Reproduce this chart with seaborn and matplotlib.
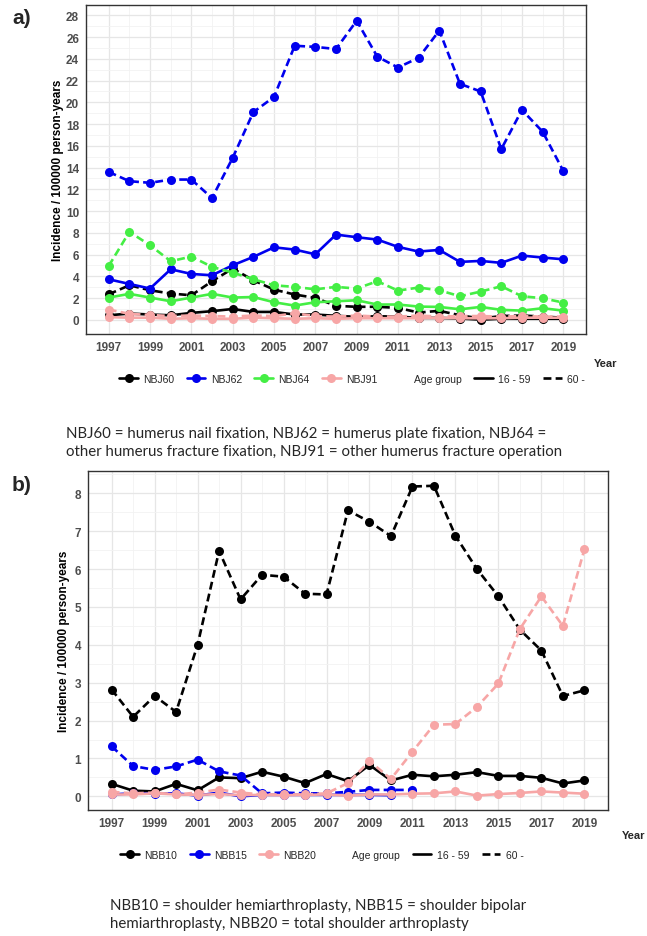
import numpy as np
import pandas as pd
import matplotlib
matplotlib.use("Agg")
import matplotlib.pyplot as plt
from matplotlib.lines import Line2D
import seaborn as sns

years = list(range(1997, 2020))

# Panel a) values
nbj60_young = [0.42, 0.58, 0.49, 0.42, 0.64, 0.80, 1.00, 0.73, 0.73, 0.49, 0.49, 0.37, 0.28, 0.33, 0.30, 0.18, 0.18, 0.12, 0.02, 0.10, 0.10, 0.10, 0.10]
nbj60_old = [2.35, 3.18, 2.72, 2.42, 2.26, 3.55, 4.72, 3.64, 2.78, 2.33, 2.02, 1.29, 1.20, 1.20, 1.10, 0.67, 0.83, 0.42, 0.12, 0.35, 0.40, 0.30, 0.20]
nbj62_young = [3.73, 3.30, 2.88, 4.65, 4.22, 4.10, 5.02, 5.79, 6.67, 6.46, 6.03, 7.84, 7.60, 7.38, 6.71, 6.28, 6.43, 5.33, 5.42, 5.24, 5.91, 5.73, 5.57]
nbj62_old = [13.6, 12.75, 12.6, 12.9, 12.9, 11.2, 14.9, 19.1, 20.5, 25.2, 25.1, 24.9, 27.5, 24.2, 23.2, 24.1, 26.6, 21.7, 21.0, 15.7, 19.3, 17.3, 13.7]
nbj64_young = [2.05, 2.39, 2.05, 1.71, 2.05, 2.39, 2.05, 2.10, 1.62, 1.31, 1.62, 1.71, 1.80, 1.41, 1.41, 1.22, 1.19, 0.97, 1.19, 0.92, 0.85, 1.07, 0.85]
nbj64_old = [4.96, 8.09, 6.86, 5.39, 5.82, 4.87, 4.35, 3.73, 3.18, 3.03, 2.81, 3.03, 2.88, 3.55, 2.69, 2.97, 2.72, 2.17, 2.60, 3.09, 2.17, 1.99, 1.59]
nbj91_young = [0.25, 0.20, 0.20, 0.10, 0.15, 0.10, 0.10, 0.20, 0.15, 0.10, 0.15, 0.10, 0.15, 0.15, 0.15, 0.15, 0.20, 0.15, 0.15, 0.15, 0.20, 0.20, 0.20]
nbj91_old = [0.95, 0.55, 0.45, 0.35, 0.40, 0.35, 0.30, 0.40, 0.35, 0.60, 0.35, 0.30, 0.40, 0.30, 0.30, 0.40, 0.30, 0.35, 0.35, 0.30, 0.35, 0.30, 0.30]

# Panel b) values
nbb10_young = [0.33, 0.15, 0.13, 0.33, 0.16, 0.50, 0.48, 0.65, 0.52, 0.35, 0.59, 0.40, 0.83, 0.42, 0.57, 0.53, 0.57, 0.64, 0.54, 0.54, 0.49, 0.34, 0.42]
nbb10_old = [2.82, 2.10, 2.65, 2.23, 4.00, 6.48, 5.20, 5.85, 5.80, 5.35, 5.33, 7.55, 7.25, 6.87, 8.18, 8.20, 6.88, 6.00, 5.28, 4.40, 3.85, 2.65, 2.80]
nbb15_years_young = list(range(1997, 2011))
nbb15_young = [0.05, 0.08, 0.07, 0.08, 0.02, 0.10, 0.00, 0.04, 0.04, 0.04, 0.04, 0.04, 0.04, 0.03]
nbb15_years_old = list(range(1997, 2012))
nbb15_old = [1.32, 0.80, 0.70, 0.79, 0.97, 0.66, 0.55, 0.08, 0.10, 0.08, 0.08, 0.12, 0.17, 0.17, 0.17]
nbb20_young = [0.05, 0.05, 0.08, 0.05, 0.04, 0.06, 0.03, 0.04, 0.03, 0.04, 0.05, 0.02, 0.05, 0.05, 0.07, 0.08, 0.13, 0.02, 0.06, 0.09, 0.13, 0.10, 0.07]
nbb20_old = [0.12, 0.08, 0.10, 0.05, 0.10, 0.18, 0.10, 0.05, 0.05, 0.05, 0.08, 0.35, 0.93, 0.46, 1.18, 1.89, 1.91, 2.36, 2.98, 4.42, 5.28, 4.50, 6.52]

codes_a = ["NBJ60", "NBJ62", "NBJ64", "NBJ91"]
codes_b = ["NBB10", "NBB15", "NBB20"]
age_groups = ["16 - 59", "60 -"]
year_ticks = list(range(1997, 2020, 2))

caption_a = ("NBJ60 = humerus nail fixation, NBJ62 = humerus plate fixation, NBJ64 =\n"
             "other humerus fracture fixation, NBJ91 = other humerus fracture operation")
caption_b = ("NBB10 = shoulder hemiarthroplasty, NBB15 = shoulder bipolar\n"
             "hemiarthroplasty, NBB20 = total shoulder arthroplasty")

def long_df(entries):
    rows = []
    for code, age, ys, vals in entries:
        for y, v in zip(ys, vals):
            rows.append({"year": y, "value": v, "code": code, "age": age})
    return pd.DataFrame(rows)

df_a = long_df([
    ("NBJ60", "16 - 59", years, nbj60_young), ("NBJ60", "60 -", years, nbj60_old),
    ("NBJ62", "16 - 59", years, nbj62_young), ("NBJ62", "60 -", years, nbj62_old),
    ("NBJ64", "16 - 59", years, nbj64_young), ("NBJ64", "60 -", years, nbj64_old),
    ("NBJ91", "16 - 59", years, nbj91_young), ("NBJ91", "60 -", years, nbj91_old),
])
df_b = long_df([
    ("NBB10", "16 - 59", years, nbb10_young), ("NBB10", "60 -", years, nbb10_old),
    ("NBB15", "16 - 59", nbb15_years_young, nbb15_young), ("NBB15", "60 -", nbb15_years_old, nbb15_old),
    ("NBB20", "16 - 59", years, nbb20_young), ("NBB20", "60 -", years, nbb20_old),
])

BLACK, BLUE, GREEN, PINK = "#000000", "#0000ee", "#44ee44", "#f7a6a6"
pal_a = dict(zip(codes_a, [BLACK, BLUE, GREEN, PINK]))
pal_b = dict(zip(codes_b, [BLACK, BLUE, PINK]))

sns.set_theme(style="whitegrid")
plt.rcParams["font.family"] = ["Liberation Sans", "DejaVu Sans"]

fig = plt.figure(figsize=(6.47, 9.37), dpi=100)
W, H = 647, 937

def add_ax(l, t, r, b):
    return fig.add_axes([l / W, 1 - b / H, (r - l) / W, (b - t) / H])

ax1 = add_ax(86, 6, 586, 335)
ax2 = add_ax(88, 472, 608, 811)

dashes = {"16 - 59": "", "60 -": (3, 1.6)}
lw = 1.9
ms = 6.5

def draw(ax, df, pal, order):
    sns.lineplot(data=df, x="year", y="value", hue="code", style="age",
                 hue_order=order, style_order=age_groups, palette=pal,
                 dashes=dashes, markers={"16 - 59": "o", "60 -": "o"},
                 markersize=ms, markeredgewidth=0, linewidth=lw,
                 legend=False, ax=ax, errorbar=None)

draw(ax1, df_a, pal_a, codes_a)
draw(ax2, df_b, pal_b, codes_b)

def style_ax(ax, ylim, ystep, pad):
    ax.set_xlim(1995.9, 2020.1)
    ax.set_ylim(*ylim)
    ax.set_xticks(year_ticks)
    ax.set_xticks(list(range(1998, 2020, 2)), minor=True)
    ymax = int(np.floor(ylim[1]))
    ax.set_yticks(np.arange(0, ymax + 0.01, ystep))
    ax.set_yticks(np.arange(ystep / 2, ylim[1], ystep), minor=True)
    ax.grid(True, which="major", color="#e6e6e6", linewidth=0.9)
    ax.grid(True, which="minor", color="#f2f2f2", linewidth=0.6)
    ax.set_facecolor("white")
    for s in ax.spines.values():
        s.set_color("#333333")
        s.set_linewidth(1.0)
        s.set_visible(True)
    ax.tick_params(axis="both", which="major", length=3, width=0.8, color="#333333",
                   labelsize=8.5, labelcolor="#4d4d4d", pad=2)
    ax.tick_params(axis="both", which="minor", length=0)
    for lab in ax.get_xticklabels() + ax.get_yticklabels():
        lab.set_fontweight("bold")
    ax.set_xlabel("")
    ax.set_ylabel("Incidence / 100000 person-years", fontsize=8.5, fontweight="bold",
                  color="black", labelpad=pad)

style_ax(ax1, (-1.3, 28.95), 2, 1.5)
style_ax(ax2, (-0.36, 8.59), 1, 3)

# "Year" axis titles
fig.text(617 / W, 1 - 364 / H, "Year", ha="right", va="center", fontsize=8,
         fontweight="bold")
fig.text(645 / W, 1 - 836 / H, "Year", ha="right", va="center", fontsize=8,
         fontweight="bold")

# panel labels
fig.text(12 / W, 1 - 18 / H, "a)", ha="left", va="center", fontsize=15, fontweight="bold")
fig.text(12 / W, 1 - 486 / H, "b)", ha="left", va="center", fontsize=15, fontweight="bold")

def legend(codes, pal, y_px, x_px):
    handles = [Line2D([0], [0], color=pal[c], lw=lw, marker="o", markersize=ms,
                      markeredgewidth=0) for c in codes]
    labels = list(codes)
    handles.append(Line2D([0], [0], alpha=0))
    labels.append("Age group")
    handles.append(Line2D([0], [0], color="black", lw=lw))
    labels.append("16 - 59")
    handles.append(Line2D([0], [0], color="black", lw=lw, dashes=(3, 1.6)))
    labels.append("60 -")
    leg = fig.legend(handles, labels, loc="center", ncol=len(labels),
                     bbox_to_anchor=(x_px / W, 1 - y_px / H), frameon=False,
                     fontsize=7.5, handlelength=1.8, handletextpad=0.5,
                     columnspacing=1.2)
    return leg

legend(codes_a, pal_a, 380, 352)
legend(codes_b, pal_b, 856, 322)

cap_font = ["Lato", "DejaVu Sans"]
fig.text(66 / W, 1 - 443 / H, caption_a, ha="left", va="center", fontsize=10.8,
         family=cap_font, linespacing=1.4)
fig.text(110 / W, 1 - 915 / H, caption_b, ha="left", va="center", fontsize=10.8,
         family=cap_font, linespacing=1.4)

fig.savefig("out.png", dpi=100)
